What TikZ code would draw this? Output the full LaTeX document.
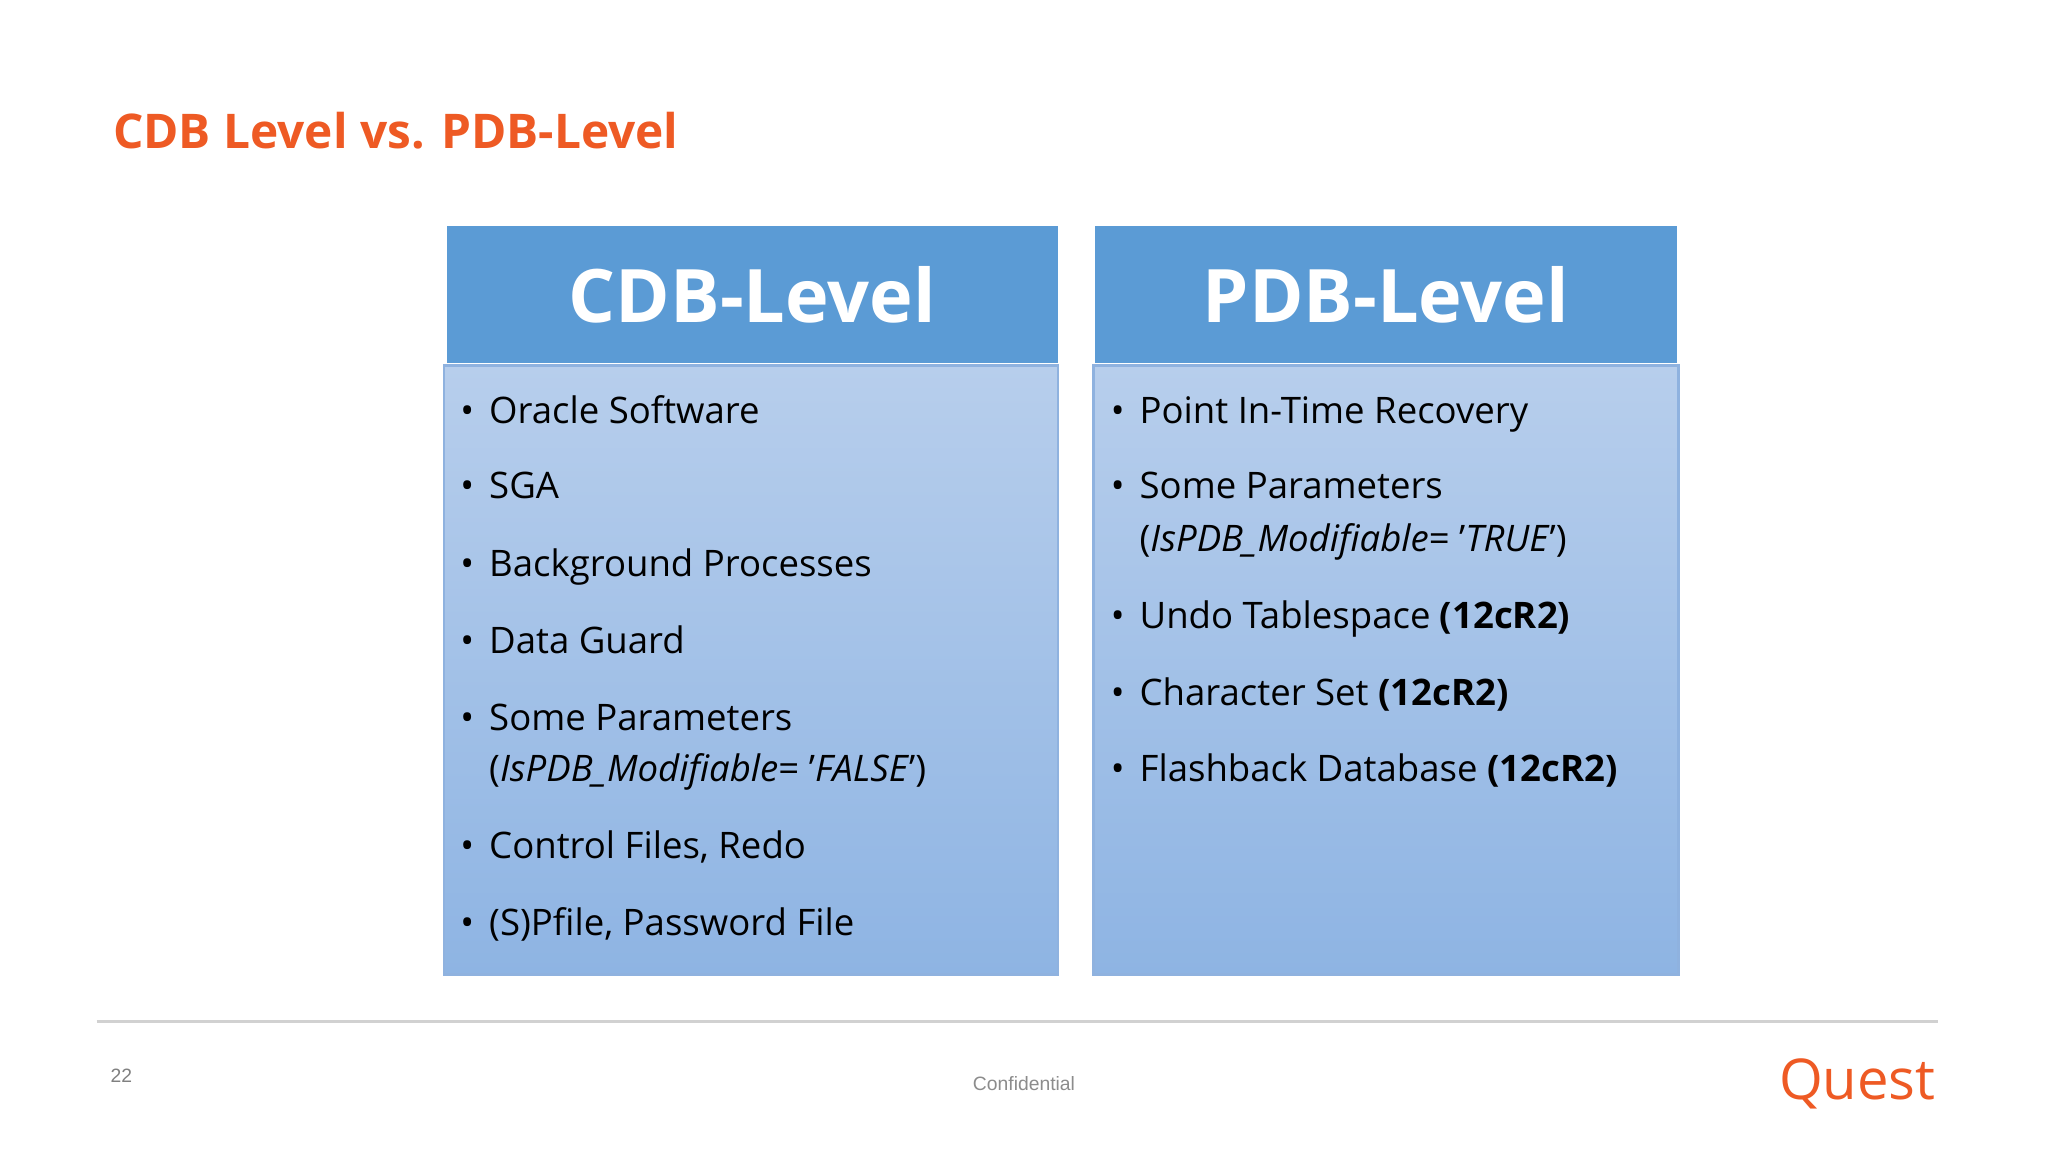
\documentclass[tikz,border=0pt]{standalone}
\usepackage{fontspec}
\setmainfont{Open Sans}
\newfontfamily\arialf{Liberation Sans}
\usetikzlibrary{shadows}
\definecolor{qorange}{HTML}{EE5A24}
\definecolor{hdr}{HTML}{5B9BD5}
\definecolor{btop}{HTML}{B7CEEC}
\definecolor{bbot}{HTML}{8EB4E3}
\definecolor{bord}{HTML}{8FB2DF}
\tikzset{
 hdrbox/.style={fill=hdr,draw=none},
 bodybox/.style={top color=btop,bottom color=bbot,draw=bord,line width=0.8pt},
 hdrtext/.style={text=white,font=\fontsize{21}{24}\selectfont\bfseries},
 item/.style={anchor=base west,font=\fontsize{10.4}{13}\selectfont,text=black,inner sep=0pt,align=left},
 bul/.style={anchor=base west,font=\fontsize{10.4}{13}\selectfont,inner sep=0pt},
}
\begin{document}
\begin{tikzpicture}[x=0.01306cm,y=-0.01306cm]
\path[fill=white] (0,0) rectangle (1568,882);
\node[anchor=base west,inner sep=0pt,text=qorange,font=\fontsize{13.6}{16}\selectfont\bfseries] (title) at (86,114) {CDB Level vs. PDB-Level};
\path[hdrbox] (342,173) rectangle (810,278);
\path[bodybox] (340,280) rectangle (810,746);
\node[hdrtext,anchor=base] (lh) at (576,247) {CDB-Level};
\path[hdrbox] (838,173) rectangle (1284,278);
\path[bodybox] (837,280) rectangle (1285,746);
\node[hdrtext,anchor=base] (rh) at (1061,247) {PDB-Level};
\foreach \y/\t [count=\i] in {324/Oracle Software,382/SGA,441/Background Processes,500/Data Guard,559/Some Parameters,657/{Control Files, Redo},716/{(S)Pfile, Password File}}{
 \node[bul] (lb\i) at (352,\y) {•};
 \node[item] (li\i) at (374,\y) {\t};
}
\node[item] (li5b) at (374,598) {(\textit{IsPDB\_Modifiable}= '\textit{FALSE}')};
\node[bul] (rb1) at (850,324) {•}; \node[item] (ri1) at (872,324) {Point In-Time Recovery};
\node[bul] (rb2) at (850,382) {•}; \node[item] (ri2) at (872,382) {Some Parameters};
\node[item] (ri2b) at (872,422) {(\textit{IsPDB\_Modifiable}= '\textit{TRUE}')};
\node[bul] (rb3) at (850,481) {•}; \node[item] (ri3) at (872,481) {Undo Tablespace \textbf{(12cR2)}};
\node[bul] (rb4) at (850,540) {•}; \node[item] (ri4) at (872,540) {Character Set \textbf{(12cR2)}};
\node[bul] (rb5) at (850,598) {•}; \node[item] (ri5) at (872,598) {Flashback Database \textbf{(12cR2)}};
\coordinate (fa) at (74,782); \coordinate (fb) at (1484,782);
\draw[black!18,line width=0.8pt] (fa) -- (fb);
\node[text=black!50,font=\fontsize{5.5}{6}\selectfont\arialf] (pg) at (93,824) {22};
\node[text=black!45,font=\fontsize{5.5}{6}\selectfont\arialf] (conf) at (784,830) {Confidential};
\node[text=qorange,font=\fontsize{16}{18}\selectfont] (logo) at (1422,830) {Quest};
\end{tikzpicture}
\end{document}
